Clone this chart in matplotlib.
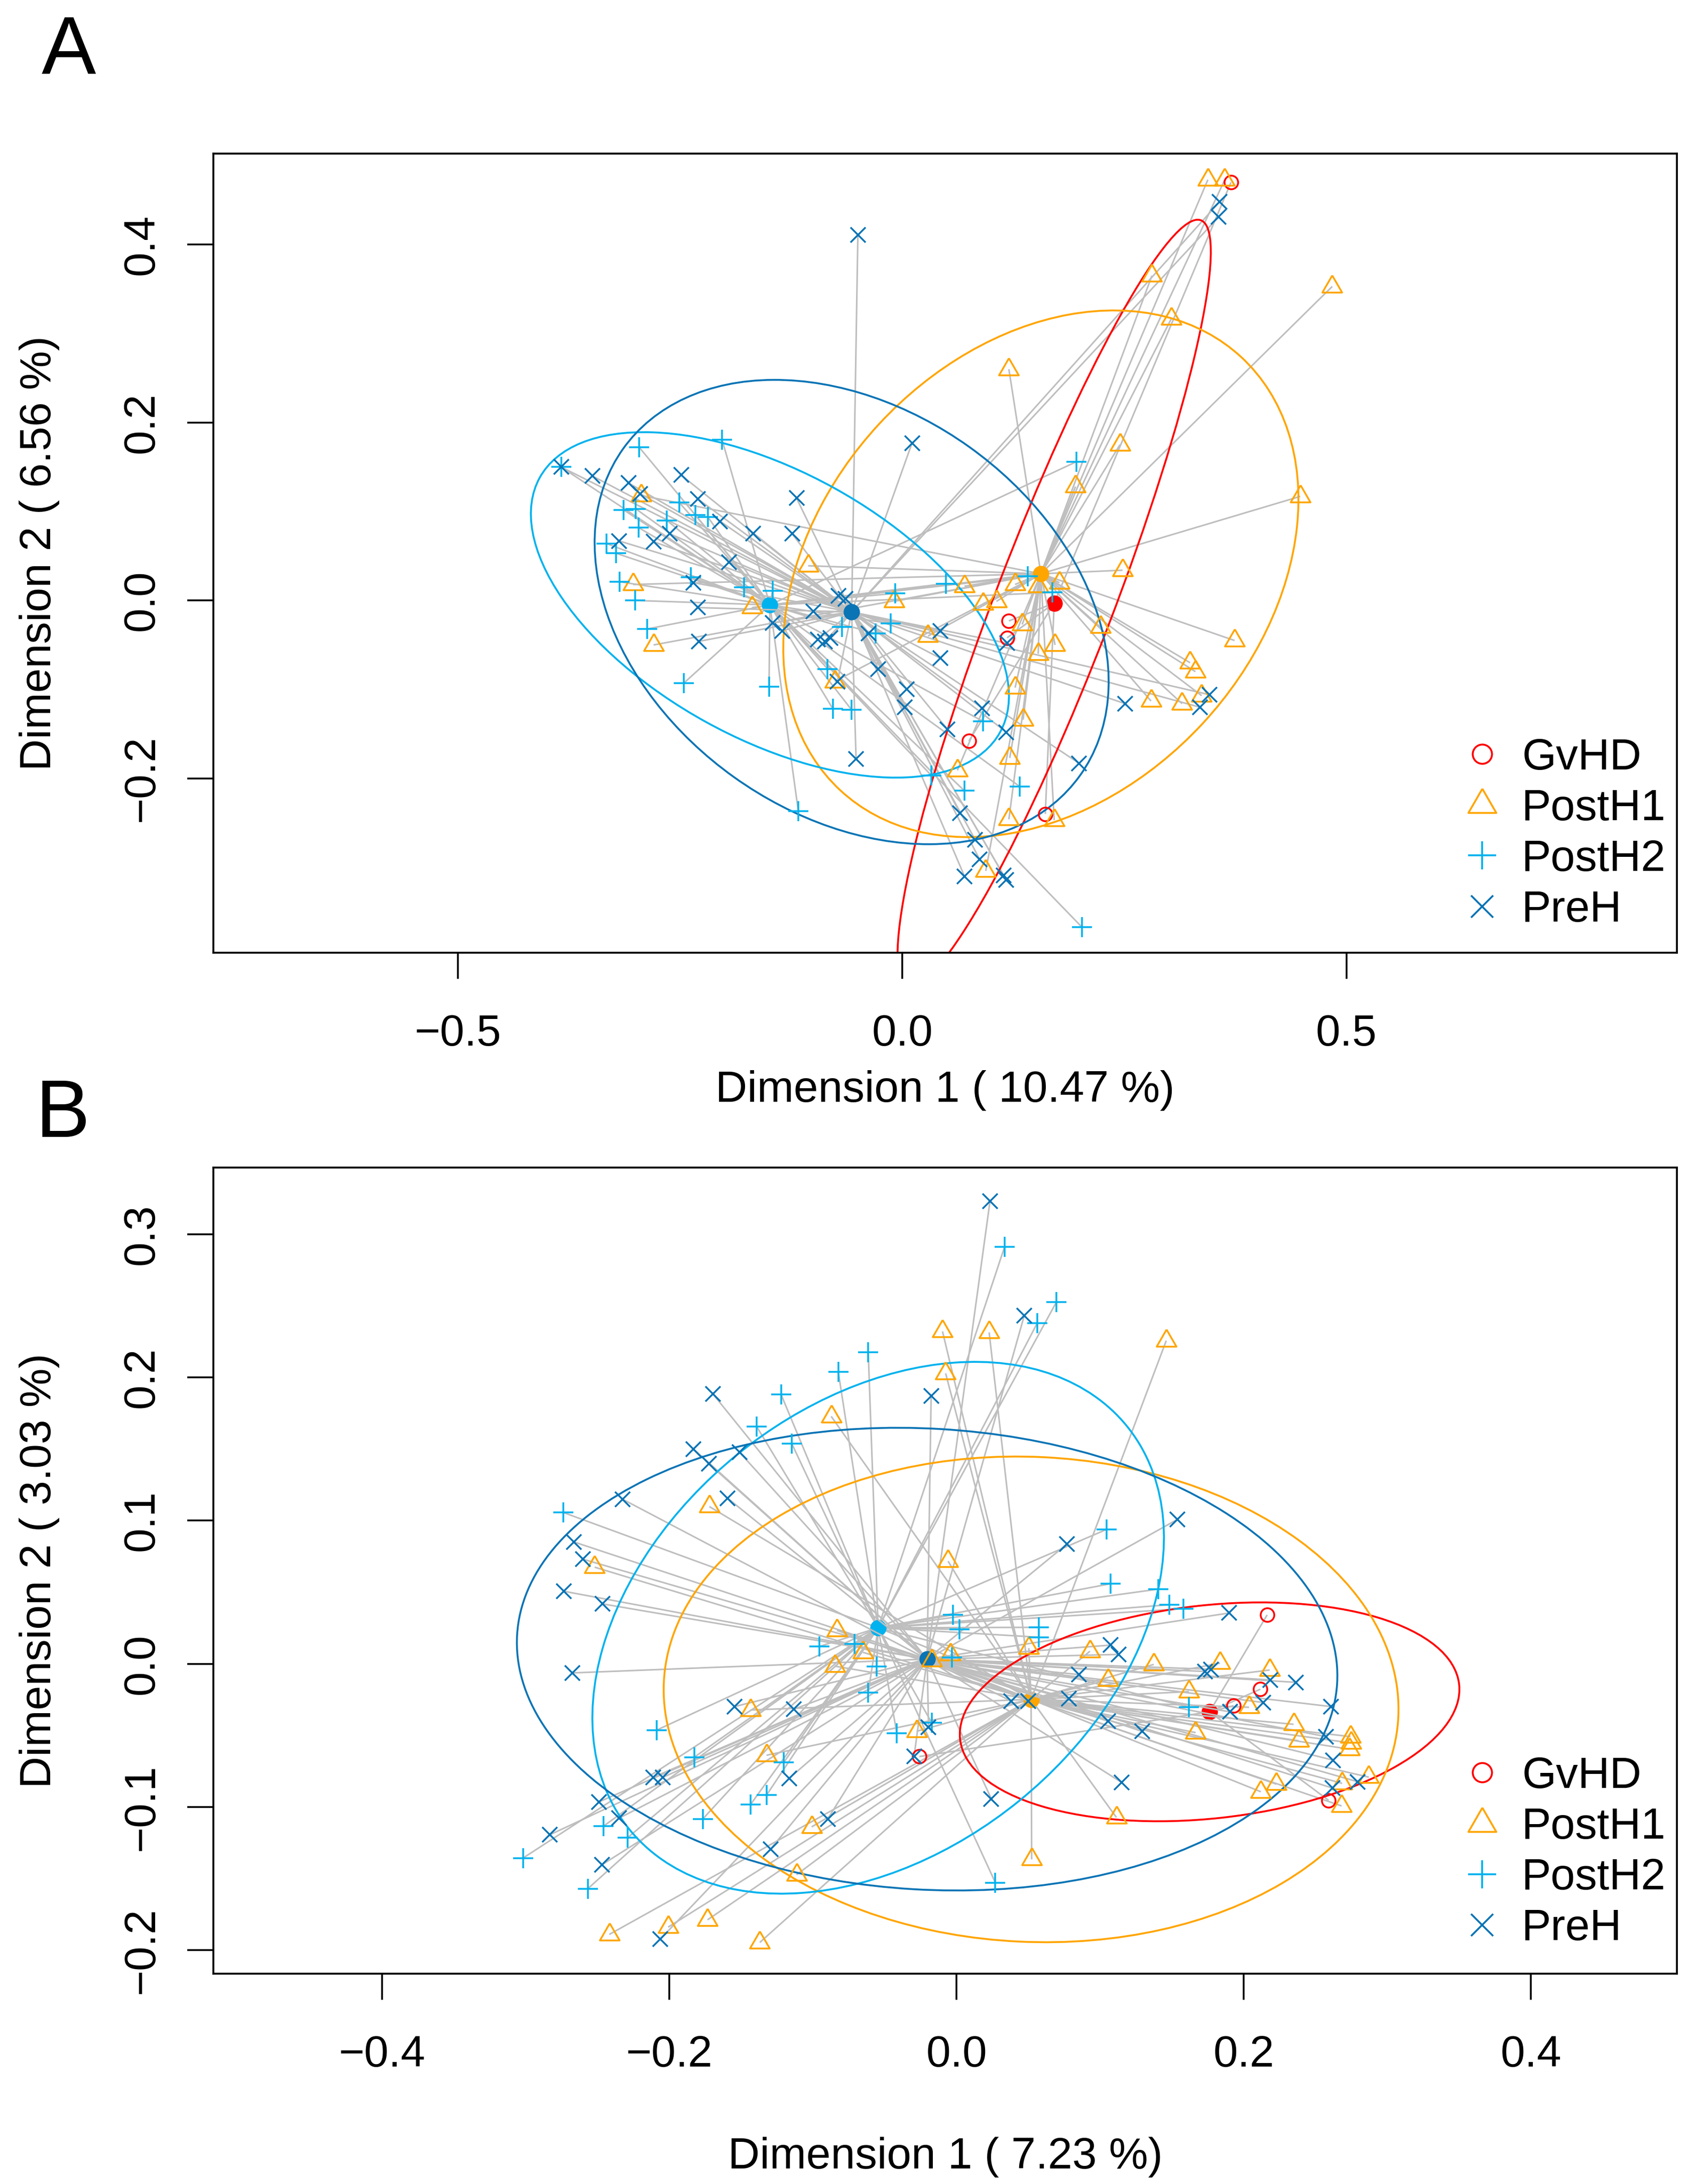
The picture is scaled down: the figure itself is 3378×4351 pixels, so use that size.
import numpy as np
import matplotlib
matplotlib.use('Agg')
import matplotlib.pyplot as plt
from matplotlib.patches import Ellipse
from matplotlib.lines import Line2D
from matplotlib.collections import LineCollection

plt.rcParams['font.family'] = ['Liberation Sans', 'DejaVu Sans']

groups = ['GvHD', 'PostH1', 'PostH2', 'PreH']
colors = ['#FF0000', '#FFA500', '#00B2EE', '#0B74B5']

# ---------------- panel A : sample scores ----------------
a_gvhd_x = [0.370, 0.120, 0.118, 0.075, 0.161]
a_gvhd_y = [0.470, -0.023, -0.042, -0.158, -0.240]

a_post1_x = [-0.294, -0.303, -0.169, -0.280, -0.106, -0.009, 0.029, -0.076, 0.062, 0.070,
             0.344, 0.363, 0.281, 0.484, 0.303, 0.120, 0.245, 0.195, 0.448, 0.248,
             0.127, 0.153, 0.177, 0.091, 0.106, 0.135, 0.223, 0.172, 0.153, 0.374,
             0.324, 0.330, 0.127, 0.280, 0.315, 0.337, 0.136, 0.121, 0.120, 0.171, 0.094]
a_post1_y = [0.118, 0.018, -0.008, -0.050, 0.039, -0.001, -0.040, -0.091, -0.191, 0.016,
             0.473, 0.473, 0.365, 0.353, 0.317, 0.260, 0.175, 0.128, 0.117, 0.034,
             0.018, 0.016, 0.020, -0.004, -0.001, -0.027, -0.030, -0.050, -0.060, -0.045,
             -0.070, -0.080, -0.098, -0.113, -0.116, -0.107, -0.134, -0.177, -0.246, -0.247, -0.304]

a_post2_x = [-0.203, -0.296, -0.384, -0.251, -0.314, -0.300, -0.233, -0.219, -0.265, -0.297,
             -0.333, -0.322, -0.318, -0.301, -0.238, -0.178, -0.146, -0.287, -0.246, -0.150,
             -0.084, -0.068, -0.008, -0.013, -0.030, -0.078, -0.057, 0.049, 0.033, -0.117,
             0.196, 0.141, 0.169, 0.091, 0.070, 0.132, 0.202]
a_post2_y = [0.181, 0.172, 0.150, 0.110, 0.102, 0.103, 0.096, 0.094, 0.090, 0.082,
             0.064, 0.053, 0.021, 0.000, 0.026, 0.015, 0.011, -0.032, -0.093, -0.097,
             -0.077, -0.030, 0.008, -0.026, -0.037, -0.122, -0.123, 0.019, -0.197, -0.237,
             0.156, 0.027, 0.009, -0.136, -0.214, -0.209, -0.367]

a_pre_x = [-0.384, -0.349, -0.308, -0.249, -0.295, -0.230, -0.205, -0.168, -0.124, -0.119,
           0.011, -0.319, -0.280, -0.262, -0.195, -0.235, -0.230, -0.229, -0.146, -0.135,
           -0.100, -0.072, -0.064, -0.095, -0.087, -0.081, -0.038, 0.043, 0.043, -0.027,
           -0.073, 0.005, 0.003, 0.051, -0.052, 0.065, -0.050, 0.357, 0.356, 0.118,
           0.090, 0.117, 0.251, 0.346, 0.335, 0.199, 0.082, 0.087, 0.070, 0.114, 0.117]
a_pre_y = [0.150, 0.140, 0.132, 0.141, 0.120, 0.114, 0.089, 0.075, 0.075, 0.115,
           0.177, 0.067, 0.066, 0.075, 0.043, 0.020, -0.008, -0.046, -0.025, -0.034,
           -0.012, 0.005, 0.002, -0.044, -0.046, -0.042, -0.037, -0.034, -0.065, -0.077,
           -0.091, -0.100, -0.120, -0.145, -0.178, -0.239, 0.411, 0.448, 0.431, -0.048,
           -0.121, -0.148, -0.116, -0.106, -0.120, -0.183, -0.269, -0.291, -0.310, -0.309, -0.314]

a_cent_x = [0.171, 0.156, -0.149, -0.057]
a_cent_y = [-0.003, 0.030, -0.005, -0.013]
a_ell_major = [0.461, 0.332, 0.296, 0.316]
a_ell_minor = [0.066, 0.248, 0.150, 0.228]
a_ell_angle = [69.0, 47.1, -28.9, -35.5]

# ---------------- panel B : sample scores ----------------
b_gvhd_x = [0.2163, 0.2115, 0.1929, 0.2591, -0.0259]
b_gvhd_y = [0.0342, -0.0177, -0.0292, -0.0953, -0.0647]

b_post1_x = [-0.0873, -0.1721, -0.2520, -0.0098, 0.0227, 0.1460, -0.0076, -0.0059, 0.0503, 0.0929,
             -0.0044, -0.0833, -0.0652, -0.0848, -0.1435, -0.0278, -0.1323, -0.1009, -0.1114, -0.2418,
             -0.2008, -0.1734, -0.1370, 0.1373, 0.1055, 0.1834, 0.2180, 0.1618, 0.2037, 0.1665,
             0.2347, 0.2382, 0.2743, 0.2746, 0.2736, 0.2871, 0.2685, 0.2228, 0.2119, 0.2681,
             0.1113, 0.0523, -0.0173]
b_post1_y = [0.1728, 0.1098, 0.0675, 0.2321, 0.2314, 0.2256, 0.2028, 0.0717, 0.0110, 0.0088,
             0.0066, 0.0234, 0.0080, -0.0016, -0.0322, -0.0471, -0.0638, -0.1138, -0.1472, -0.1889,
             -0.1838, -0.1787, -0.1945, -0.0004, -0.0112, 0.0005, -0.0043, -0.0194, -0.0303, -0.0480,
             -0.0422, -0.0537, -0.0508, -0.0552, -0.0596, -0.0791, -0.0834, -0.0840, -0.0893, -0.0992,
             -0.1072, -0.1365, 0.0022]

b_post2_x = [-0.0615, -0.0824, -0.1222, -0.1391, -0.1147, -0.2739, 0.0335, 0.0696, 0.0562, 0.1043,
             0.1071, 0.1406, 0.1481, 0.1579, -0.0026, 0.0021, 0.0573, 0.0573, -0.0954, -0.0712,
             -0.0556, -0.0615, -0.0416, -0.2087, -0.1827, -0.1203, -0.1323, -0.1434, -0.1767, -0.2457,
             -0.2290, -0.3019, -0.2568, -0.0033, 0.1618, -0.0173, 0.0270]
b_post2_y = [0.2177, 0.2040, 0.1881, 0.1655, 0.1537, 0.1057, 0.2913, 0.2527, 0.2379, 0.0938,
             0.0559, 0.0522, 0.0413, 0.0385, 0.0342, 0.0240, 0.0255, 0.0186, 0.0122, 0.0141,
             -0.0020, -0.0202, -0.0484, -0.0462, -0.0652, -0.0688, -0.0916, -0.0981, -0.1083, -0.1132,
             -0.1213, -0.1356, -0.1570, 0.0044, -0.0303, -0.0411, -0.1527]

b_pre_x = [-0.1697, -0.1832, -0.1726, -0.1512, -0.2327, -0.1595, -0.2664, -0.2603, 0.0233, 0.0471,
           -0.0177, 0.0768, 0.1539, 0.1898, 0.1071, 0.1129, -0.2735, -0.2467, -0.2674, -0.1545,
           -0.1133, -0.2113, -0.2045, -0.1166, -0.2489, -0.2349, -0.2834, -0.0897, -0.1295, -0.2470,
           -0.2063, -0.0296, 0.0854, 0.0379, 0.0498, 0.0783, 0.1730, 0.1773, 0.2184, 0.2361,
           0.2137, 0.1903, 0.2606, 0.1055, 0.1293, 0.2573, 0.2621, 0.2617, 0.2794, 0.1150,
           0.0242, -0.0195]
b_pre_y = [0.1885, 0.1500, 0.1398, 0.1478, 0.1150, 0.1157, 0.0851, 0.0731, 0.3231, 0.2430,
           0.1872, 0.0836, 0.1009, 0.0355, 0.0131, 0.0066, 0.0507, 0.0419, -0.0063, -0.0298,
           -0.0317, -0.0792, -0.0792, -0.0799, -0.0963, -0.1077, -0.1194, -0.1083, -0.1293, -0.1403,
           -0.1922, -0.0647, -0.0075, -0.0259, -0.0259, -0.0242, -0.0053, -0.0038, -0.0112, -0.0129,
           -0.0270, -0.0335, -0.0298, -0.0401, -0.0472, -0.0508, -0.0672, -0.0867, -0.0823, -0.0828,
           -0.0942, -0.0443]

b_cent_x = [0.1762, 0.0519, -0.0546, -0.0205]
b_cent_y = [-0.0335, -0.0248, 0.0252, 0.0033]
b_ell_major = [0.1748, 0.2560, 0.2232, 0.2860]
b_ell_minor = [0.0744, 0.1693, 0.1557, 0.1609]
b_ell_angle = [6.3, -2.7, 39.2, -3.4]

# R-like symbols: open circle, open triangle, plus, cross
tri = [(0, 1), (-0.866, -0.5), (0.866, -0.5), (0, 1)]
markers = ['o', tri, '+', 'x']
pt_size = [6.5, 10.9, 9.6, 7.3]
leg_size = [9.2, 15.4, 13.4, 10.4]


def panel(ax, xs, ys, cx, cy, ea, eb, eang, xlim, ylim, xt, yt, xlab, ylab, xlab_y, leg_top):
    # group by group: spider segments then the group centroid, so later groups' lines cover earlier centroids
    for g in range(4):
        segs = [[(cx[g], cy[g]), (px, py)] for px, py in zip(xs[g], ys[g])]
        ax.add_collection(LineCollection(segs, colors='#BEBEBE', linewidths=0.75,
                                         zorder=1 + 0.1 * g))
        ax.plot(cx[g], cy[g], 'o', color=colors[g], ms=7.8, mec='none', zorder=1.05 + 0.1 * g)
    for g in range(4):
        ax.add_patch(Ellipse((cx[g], cy[g]), 2 * ea[g], 2 * eb[g], angle=eang[g],
                             fill=False, ec=colors[g], lw=0.9, zorder=2))
    for g in range(4):
        ax.plot(xs[g], ys[g], ls='none', marker=markers[g], ms=pt_size[g],
                mfc='none', mec=colors[g], mew=0.85, zorder=4)

    ax.set_xlim(xlim)
    ax.set_ylim(ylim)
    ax.set_xticks(xt)
    ax.set_yticks(yt)
    ax.tick_params(axis='both', direction='out', length=12.5, width=0.85, labelsize=21)
    ax.tick_params(axis='x', pad=16.8)
    ax.tick_params(axis='y', pad=11.8)
    plt.setp(ax.get_yticklabels(), rotation=90, va='center')
    for sp in ax.spines.values():
        sp.set_linewidth(0.9)
    ax.text(0.5, xlab_y, xlab, transform=ax.transAxes, ha='center', va='baseline', fontsize=21)
    ax.text(-0.1188, 0.5, ylab, transform=ax.transAxes, ha='center', va='center',
            rotation=90, fontsize=21)

    handles = [Line2D([], [], ls='none', marker=markers[g], ms=leg_size[g], mfc='none',
                      mec=colors[g], mew=0.9) for g in range(4)]
    ax.legend(handles, groups, loc='upper left', bbox_to_anchor=(0.8518, leg_top),
              frameon=False, fontsize=21, labelspacing=0.23, handlelength=1.0,
              handletextpad=0.41, borderpad=0, borderaxespad=0)


fig = plt.figure(figsize=(3378 / 300, 4351 / 300), dpi=300)
axA = fig.add_axes([0.12581, 0.56378, 0.86293, 0.36594])
axB = fig.add_axes([0.12581, 0.09630, 0.86293, 0.36911])

panel(axA,
      [a_gvhd_x, a_post1_x, a_post2_x, a_pre_x],
      [a_gvhd_y, a_post1_y, a_post2_y, a_pre_y],
      a_cent_x, a_cent_y, a_ell_major, a_ell_minor, a_ell_angle,
      (-0.7755, 0.8720), (-0.3960, 0.5025),
      [-0.5, 0.0, 0.5], [-0.2, 0.0, 0.2, 0.4],
      'Dimension 1 ( 10.47 %)', 'Dimension 2 ( 6.56 %)', -0.1865, 0.2689)

panel(axB,
      [b_gvhd_x, b_post1_x, b_post2_x, b_pre_x],
      [b_gvhd_y, b_post1_y, b_post2_y, b_pre_y],
      b_cent_x, b_cent_y, b_ell_major, b_ell_minor, b_ell_angle,
      (-0.5175, 0.5016), (-0.2163, 0.3465),
      [-0.4, -0.2, 0.0, 0.2, 0.4], [-0.2, -0.1, 0.0, 0.1, 0.2, 0.3],
      'Dimension 1 ( 7.23 %)', 'Dimension 2 ( 3.03 %)', -0.2416, 0.2696)

fig.text(0.04065, 0.96621, 'A', fontsize=39, ha='center', va='baseline')
fig.text(0.0370, 0.4794, 'B', fontsize=39, ha='center', va='baseline')

fig.savefig('out.png', dpi=300)
